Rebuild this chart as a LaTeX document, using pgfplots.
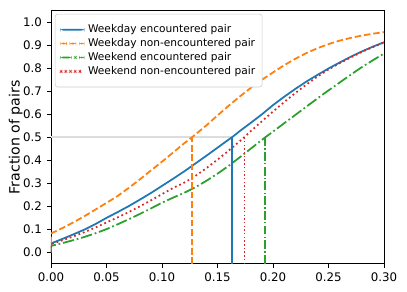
\documentclass[border=0pt]{standalone}
\usepackage{fontspec}
\setmainfont{DejaVu Sans}
\usepackage{pgfplots}
\pgfplotsset{compat=1.18}
\definecolor{tabblue}{HTML}{1F77B4}
\definecolor{taborange}{HTML}{FF7F0E}
\definecolor{tabgreen}{HTML}{2CA02C}
\definecolor{tabred}{HTML}{D62728}
\definecolor{legedge}{HTML}{CCCCCC}
\definecolor{refgrey}{HTML}{DDDDDD}
\tikzset{
  sblue/.style={draw=tabblue, line width=1.27pt},
  sorange/.style={draw=taborange, line width=1.27pt, dash pattern=on 4.7pt off 2.04pt},
  sgreen/.style={draw=tabgreen, line width=1.27pt, dash pattern=on 8.2pt off 2.04pt on 1.27pt off 2.04pt},
  sred/.style={draw=tabred, line width=1.27pt, dash pattern=on 1.27pt off 2.1pt},
}
\pgfplotsset{
  legblue/.style={legend image code/.code={
    \path[draw=none] (-0.7pt,0pt) -- (18pt,0pt);
    \path[draw=none,fill=tabblue] (0pt,-0.635pt) rectangle (17.3pt,0.635pt);}},
  legorange/.style={legend image code/.code={
    \path[draw=none] (-0.7pt,0pt) -- (18pt,0pt);
    \path[draw=none,fill=taborange] (0pt,-0.635pt) rectangle (4.7pt,0.635pt)
      (6.74pt,-0.635pt) rectangle (11.44pt,0.635pt)
      (13.48pt,-0.635pt) rectangle (17.3pt,0.635pt);}},
  leggreen/.style={legend image code/.code={
    \path[draw=none] (-0.7pt,0pt) -- (18pt,0pt);
    \path[draw=none,fill=tabgreen] (0pt,-0.635pt) rectangle (8.2pt,0.635pt)
      (10.24pt,-0.635pt) rectangle (11.51pt,0.635pt)
      (13.55pt,-0.635pt) rectangle (17.3pt,0.635pt);}},
  legred/.style={legend image code/.code={
    \path[draw=none] (-0.7pt,0pt) -- (18pt,0pt);
    \path[draw=none,fill=tabred] (0pt,-0.635pt) rectangle (1.27pt,0.635pt)
      (3.37pt,-0.635pt) rectangle (4.64pt,0.635pt)
      (6.74pt,-0.635pt) rectangle (8.01pt,0.635pt)
      (10.11pt,-0.635pt) rectangle (11.38pt,0.635pt)
      (13.48pt,-0.635pt) rectangle (14.75pt,0.635pt);}},
}
\begin{document}
\begin{tikzpicture}
\begin{axis}[
  name=ax,
  scale only axis,
  width=239.8pt, height=182.3pt,
  xmin=0, xmax=0.3, ymin=-0.05, ymax=1.05,
  xtick={0,0.05,...,0.3},
  ytick={0,0.1,...,1.0},
  xticklabel style={/pgf/number format/.cd,fixed,fixed zerofill,precision=2},
  yticklabel style={/pgf/number format/.cd,fixed,fixed zerofill,precision=1},
  /pgf/number format/assume math mode=true,
  ticklabel style={font=\fontsize{8.5}{10}\selectfont},
  tick align=outside, tick pos=left,
  major tick length=3pt,
  tick style={black, line width=0.68pt},
  axis line style={line width=0.68pt},
  scaled ticks=false,
  ylabel={Fraction of pairs},
  ylabel style={font=\fontsize{10.2}{12}\selectfont, yshift=-6.5pt},
  legend cell align=left,
  legend style={at={(0,1)}, anchor=north west, xshift=2.8pt, yshift=-2.2pt,
    draw=legedge, rounded corners=2pt, fill=white,
    font=\fontsize{7.65}{9}\selectfont, row sep=-1.3pt, inner xsep=3pt, inner ysep=5.6pt},
]
\addlegendimage{legblue}
\addlegendentry{Weekday encountered pair}
\addlegendimage{legorange}
\addlegendentry{Weekday non-encountered pair}
\addlegendimage{leggreen}
\addlegendentry{Weekend encountered pair}
\addlegendimage{legred}
\addlegendentry{Weekend non-encountered pair}
\addplot[color=refgrey, line width=1.6pt, forget plot] coordinates {(0,0.5) (0.163,0.5)};
\addplot[sblue, forget plot] coordinates {
(0,0) (0.00,0.039) (0.01,0.058) (0.02,0.078) (0.03,0.099) (0.04,0.123) (0.05,0.150)
(0.06,0.175) (0.07,0.201) (0.08,0.229) (0.09,0.258) (0.10,0.289) (0.11,0.320)
(0.12,0.352) (0.13,0.386) (0.14,0.420) (0.15,0.455) (0.16,0.490) (0.163,0.500)
(0.17,0.527) (0.18,0.563) (0.19,0.600) (0.20,0.640) (0.21,0.676) (0.22,0.710)
(0.23,0.742) (0.24,0.771) (0.25,0.799) (0.26,0.825) (0.27,0.850) (0.28,0.873)
(0.29,0.894) (0.30,0.913)};
\addplot[sorange, forget plot] coordinates {
(0,0) (0.00,0.082) (0.01,0.105) (0.02,0.130) (0.03,0.157) (0.04,0.186) (0.05,0.215)
(0.06,0.245) (0.07,0.280) (0.08,0.317) (0.09,0.356) (0.10,0.394) (0.11,0.434)
(0.12,0.474) (0.127,0.500) (0.13,0.512) (0.14,0.552) (0.15,0.595) (0.16,0.637)
(0.17,0.677) (0.18,0.715) (0.19,0.750) (0.20,0.782) (0.21,0.813) (0.22,0.841)
(0.23,0.866) (0.24,0.887) (0.25,0.905) (0.26,0.920) (0.27,0.932) (0.28,0.942)
(0.29,0.950) (0.30,0.957)};
\addplot[sgreen, forget plot] coordinates {
(0,0) (0.00,0.028) (0.01,0.040) (0.02,0.053) (0.03,0.067) (0.04,0.083) (0.05,0.101)
(0.06,0.122) (0.07,0.144) (0.08,0.167) (0.09,0.191) (0.10,0.216) (0.11,0.238)
(0.12,0.259) (0.13,0.283) (0.14,0.311) (0.15,0.342) (0.16,0.376) (0.17,0.413)
(0.18,0.451) (0.19,0.489) (0.193,0.500) (0.20,0.525) (0.21,0.561) (0.22,0.597)
(0.23,0.633) (0.24,0.669) (0.25,0.704) (0.26,0.738) (0.27,0.772) (0.28,0.805)
(0.29,0.835) (0.30,0.864)};
\addplot[sred, forget plot] coordinates {
(0,0) (0.00,0.036) (0.01,0.052) (0.02,0.069) (0.03,0.088) (0.04,0.108) (0.05,0.130)
(0.06,0.152) (0.07,0.175) (0.08,0.200) (0.09,0.226) (0.10,0.253) (0.11,0.280)
(0.12,0.303) (0.13,0.332) (0.14,0.366) (0.15,0.403) (0.16,0.442) (0.17,0.483)
(0.174,0.500) (0.18,0.527) (0.19,0.570) (0.20,0.612) (0.21,0.653) (0.22,0.692)
(0.23,0.729) (0.24,0.764) (0.25,0.795) (0.26,0.822) (0.27,0.847) (0.28,0.871)
(0.29,0.892) (0.30,0.912)};
\addplot[sorange, forget plot] coordinates {(0.1267,-0.05) (0.1267,0.5)};
\addplot[draw=tabblue, line width=1.1pt, forget plot] coordinates {(0.1628,-0.05) (0.1628,0.5)};
\addplot[draw=tabred, line width=1.0pt, dash pattern=on 1pt off 1.65pt, forget plot] coordinates {(0.1742,-0.05) (0.1742,0.5)};
\addplot[draw=tabgreen, line width=1.0pt, dash pattern=on 6.4pt off 1.6pt on 1pt off 1.6pt, forget plot] coordinates {(0.1928,-0.05) (0.1928,0.5)};
\end{axis}
\path (ax.south west) ++(-36.7pt,-19.5pt) rectangle ++(293pt,209.5pt);
\end{tikzpicture}
\end{document}
